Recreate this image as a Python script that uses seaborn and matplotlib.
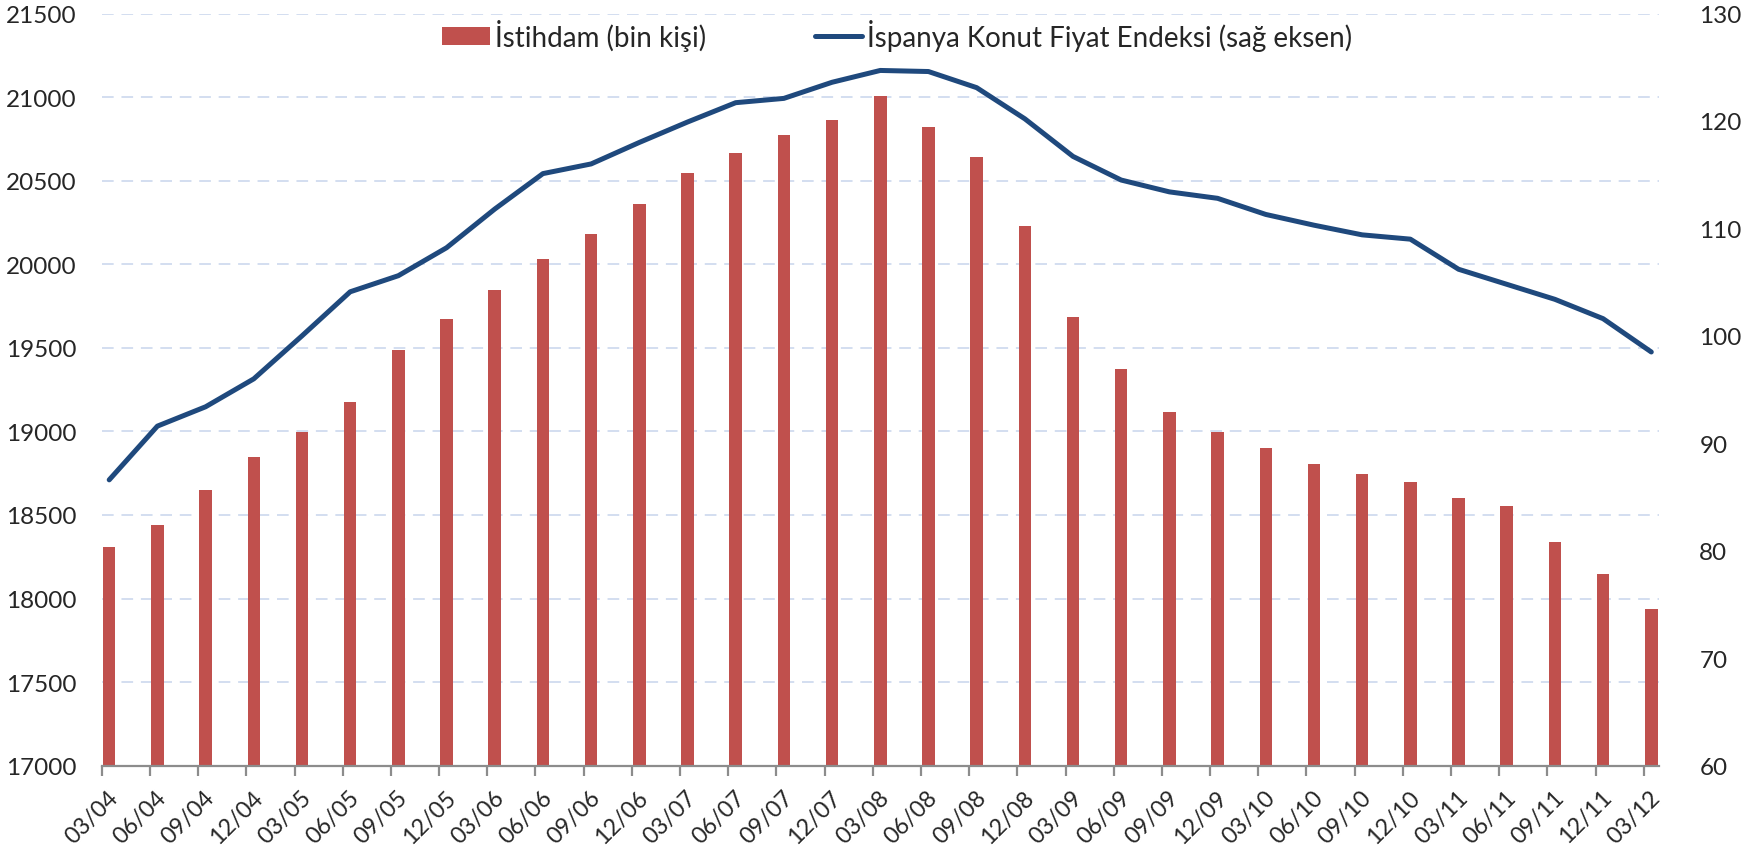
import numpy as np
import pandas as pd
import matplotlib
matplotlib.use("Agg")
import matplotlib.pyplot as plt
import seaborn as sns
from matplotlib.lines import Line2D
from matplotlib.patches import Patch

# ---- data ----
quarters = ["03/04", "06/04", "09/04", "12/04", "03/05", "06/05", "09/05", "12/05",
            "03/06", "06/06", "09/06", "12/06", "03/07", "06/07", "09/07", "12/07",
            "03/08", "06/08", "09/08", "12/08", "03/09", "06/09", "09/09", "12/09",
            "03/10", "06/10", "09/10", "12/10", "03/11", "06/11", "09/11", "12/11", "03/12"]
employment = [18309, 18442, 18649, 18847, 18996, 19177, 19486, 19675,
              19843, 20034, 20179, 20362, 20544, 20665, 20775, 20862,
              21006, 20823, 20639, 20231, 19683, 19372, 19117, 18994,
              18900, 18805, 18747, 18699, 18600, 18556, 18339, 18147, 17938]
house_price = [86.6, 91.6, 93.4, 96.0, 100.0, 104.1, 105.6, 108.2,
               111.8, 115.1, 116.0, 118.0, 119.9, 121.7, 122.1, 123.6,
               124.7, 124.6, 123.1, 120.2, 116.7, 114.5, 113.4, 112.8,
               111.3, 110.3, 109.4, 109.0, 106.2, 104.8, 103.4, 101.6, 98.5]
left_ticks = [17000, 17500, 18000, 18500, 19000, 19500, 20000, 20500, 21000, 21500]
right_ticks = [60, 70, 80, 90, 100, 110, 120, 130]
bar_label = "İstihdam (bin kişi)"
line_label = "İspanya Konut Fiyat Endeksi (sağ eksen)"

# ---- style ----
sns.set_theme(style="white")
plt.rcParams["font.family"] = ["Lato", "DejaVu Sans"]

BAR_C = "#C0504D"
LINE_C = "#1F497D"
GRID_C = "#D3DEF0"
AXIS_C = "#8C8C8C"
FS = 17.5

fig = plt.figure(figsize=(17.5, 8.53), dpi=100)
ax = fig.add_axes([0.058, 0.1012, 0.890, 0.8818])

df = pd.DataFrame({"q": quarters, "emp": employment, "hp": house_price})
df["pos"] = np.arange(len(df))

sns.barplot(data=df, x="q", y="emp", color=BAR_C, width=0.26, ax=ax,
            saturation=1, edgecolor="none", zorder=3)
ax.set_ylim(left_ticks[0], left_ticks[-1])
ax.set_yticks(left_ticks)
ax.set_xlim(-0.16, len(df) - 1 + 0.16)
ax.set_xlabel("")
ax.set_ylabel("")

# grid
ax.yaxis.grid(True, color=GRID_C, linestyle=(0, (6, 4)), linewidth=1.4, zorder=0)
ax.xaxis.grid(False)
ax.set_axisbelow(True)

for s in ["left", "right", "top"]:
    ax.spines[s].set_visible(False)
ax.spines["bottom"].set_color(AXIS_C)
ax.spines["bottom"].set_linewidth(1.6)
ax.spines["bottom"].set_zorder(4)

# ticks: labels slightly right of bar centres, tick marks at slot edges
ax.set_xticks(df["pos"] + 0.12)
ax.set_xticklabels(quarters, rotation=45, ha="right", va="center",
                   rotation_mode="anchor", fontsize=16.8)
ax.tick_params(axis="x", which="major", length=0, pad=20)
ax.set_xticks(df["pos"] - 0.155, minor=True)
ax.tick_params(axis="x", which="minor", length=7, width=1.6, color=AXIS_C, bottom=True)
ax.tick_params(axis="y", length=0, pad=18, labelsize=FS)

# secondary axis
ax2 = ax.twinx()
sns.lineplot(data=df, x="pos", y="hp", ax=ax2, color=LINE_C, linewidth=3.6,
             zorder=5, solid_capstyle="round", solid_joinstyle="round")
ax2.set_ylim(right_ticks[0], right_ticks[-1])
ax2.set_yticks(right_ticks)
ax2.set_ylabel("")
ax2.set_xlabel("")
ax2.tick_params(axis="y", length=0, pad=29, labelsize=FS)
for s in ["left", "right", "top", "bottom"]:
    ax2.spines[s].set_visible(False)
ax2.grid(False)
ax.set_xlim(-0.16, len(df) - 1 + 0.16)

handles = [Patch(facecolor=BAR_C, edgecolor="none", label=bar_label),
           Line2D([0], [0], color=LINE_C, linewidth=3.6, solid_capstyle="round", label=line_label)]
ax2.legend(handles=handles, loc="upper center", bbox_to_anchor=(0.511, 1.008), ncol=2,
           frameon=False, fontsize=20, handlelength=1.7, handleheight=0.65,
           handletextpad=0.2, columnspacing=3.9, borderaxespad=0.0)

fig.savefig("out.png", dpi=100)
